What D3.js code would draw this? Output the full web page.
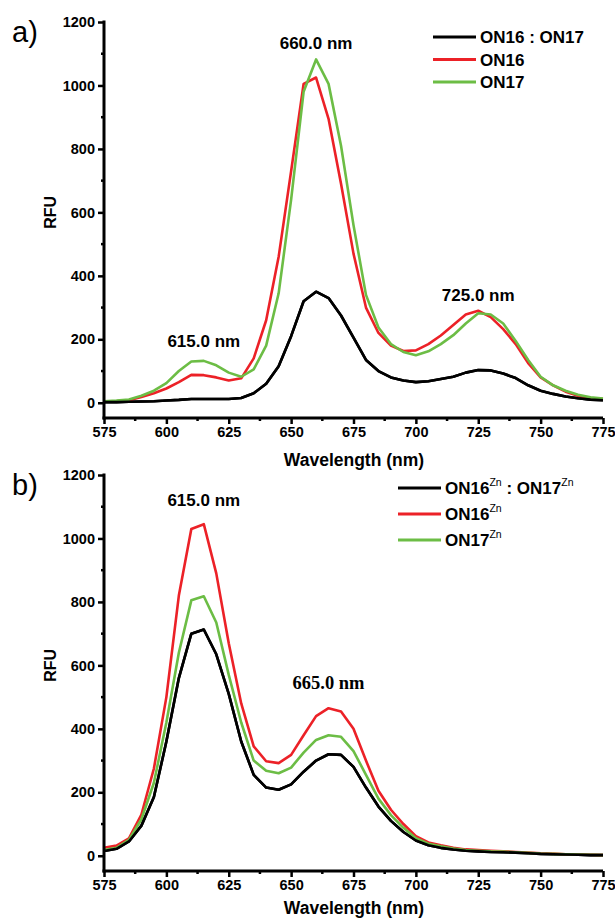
<!DOCTYPE html>
<html>
<head>
<meta charset="utf-8">
<script src="https://cdn.jsdelivr.net/npm/d3@7"></script>
<style>
  body { margin: 0; background: #fff; }
</style>
</head>
<body>
<div id="chart"></div>
<script>
// wavelengths, 5 nm steps
var wavelengths = d3.range(575, 776, 5);

// panel a) values
var mixA = [2, 2, 3, 4, 5, 7, 9, 12, 12, 12, 12, 15, 30, 60, 115, 210, 320, 350, 330, 275, 205,
  135, 100, 80, 70, 65, 68, 75, 82, 95, 103, 102, 92, 78, 55, 38, 28, 20, 14, 10, 8];
var on16A = [3, 5, 8, 18, 30, 45, 65, 88, 87, 80, 70, 77, 140, 260, 460, 730, 1005, 1025, 895, 690, 470,
  300, 220, 180, 163, 165, 185, 212, 245, 278, 290, 270, 232, 185, 125, 80, 55, 35, 22, 15, 12];
var on17A = [5, 7, 10, 22, 38, 62, 100, 130, 132, 118, 95, 82, 105, 180, 345, 640, 980, 1082, 1005, 810, 560,
  340, 237, 185, 160, 150, 162, 185, 213, 250, 282, 278, 250, 195, 135, 82, 55, 38, 25, 17, 13];

// panel b) values
var mixB = [15, 22, 45, 95, 185, 360, 560, 700, 713, 635, 510, 360, 255, 215, 208, 225, 265, 300, 320, 318, 280,
  215, 155, 110, 75, 48, 33, 25, 20, 16, 14, 12, 11, 10, 8, 6, 5, 4, 3, 2, 2];
var on16B = [25, 32, 55, 130, 275, 500, 820, 1030, 1045, 890, 670, 480, 345, 298, 292, 318, 380, 440, 465, 455, 400,
  300, 205, 145, 100, 62, 42, 33, 25, 20, 18, 16, 14, 12, 10, 8, 7, 5, 4, 3, 2];
var on17B = [18, 25, 50, 115, 230, 420, 640, 805, 818, 735, 570, 420, 300, 268, 260, 278, 325, 365, 380, 375, 330,
  255, 180, 128, 88, 55, 38, 30, 23, 18, 16, 14, 13, 11, 9, 7, 6, 5, 4, 3, 2];

var xTicks = d3.range(575, 776, 25);
var xMinor = d3.range(587.5, 776, 25);
var yTicks = d3.range(0, 1201, 200);
var yMinor = d3.range(100, 1200, 200);

var colors = ["#000000", "#ec2127", "#6cbd45"];
var legendA = [["ON16 : ON17"], ["ON16"], ["ON17"]];
var legendB = [["ON16", "Zn", " : ON17", "Zn"], ["ON16", "Zn"], ["ON17", "Zn"]];

var sans = "Liberation Sans, Arial, sans-serif";

var svg = d3.select("#chart").append("svg")
  .attr("width", 615)
  .attr("height", 920)
  .attr("font-family", sans);

function drawPanel(top, series, letter, legend, legendX, peaks, titleY) {
  var g = svg.append("g").attr("transform", `translate(0, ${top})`);

  var x = d3.scaleLinear().domain([575, 775]).range([104, 603]);
  var y = d3.scaleLinear().domain([-48, 1200]).range([418, 22]);

  // lines
  var line = d3.line()
    .x((d, i) => x(wavelengths[i]))
    .y(d => y(d));

  series.forEach(function(s, i) {
    g.append("path")
      .datum(s)
      .attr("fill", "none")
      .attr("stroke", colors[i])
      .attr("stroke-width", 2.6)
      .attr("stroke-linejoin", "round")
      .attr("d", line);
  });
  // redraw black on top so the mix curve stays visible
  g.append("path").datum(series[0])
    .attr("fill", "none").attr("stroke", colors[0]).attr("stroke-width", 2.6)
    .attr("stroke-linejoin", "round").attr("d", line);

  // axes
  var xAxis = d3.axisBottom(x).tickValues(xTicks).tickSize(6).tickPadding(3).tickFormat(d3.format("d"));
  var yAxis = d3.axisLeft(y).tickValues(yTicks).tickSize(6).tickPadding(3).tickFormat(d3.format("d"));

  var gx = g.append("g").attr("transform", `translate(0, ${y(-48)})`).call(xAxis);
  var gy = g.append("g").attr("transform", `translate(${x(575)}, 0)`).call(yAxis);

  gx.append("g").selectAll("line").data(xMinor).enter().append("line")
    .attr("x1", d => x(d)).attr("x2", d => x(d)).attr("y1", 0).attr("y2", 3)
    .attr("stroke", "#000").attr("stroke-width", 2.5);
  gy.append("g").selectAll("line").data(yMinor).enter().append("line")
    .attr("y1", d => y(d)).attr("y2", d => y(d)).attr("x1", 0).attr("x2", -3)
    .attr("stroke", "#000").attr("stroke-width", 2.5);

  [gx, gy].forEach(function(a) {
    a.select(".domain").attr("stroke-width", 3);
    a.selectAll(".tick line").attr("stroke-width", 2.5);
    a.selectAll("text")
      .attr("font-family", sans)
      .attr("font-weight", "bold")
      .attr("font-size", 14.5)
      .attr("fill", "#000");
  });
  // axis lines without the default end ticks
  gx.select(".domain").attr("d", `M${x(575) - 1.5},0H${x(775)}`);
  gy.select(".domain").attr("d", `M0,${y(-48) + 1.5}V${y(1200) - 1.5}`);

  g.append("text")
    .attr("x", 354).attr("y", titleY)
    .attr("text-anchor", "middle")
    .attr("font-weight", "bold")
    .attr("font-size", 17.5)
    .attr("fill", "#000")
    .text("Wavelength (nm)");

  g.append("text")
    .attr("transform", `translate(56, ${y(600)}) rotate(-90)`)
    .attr("text-anchor", "middle")
    .attr("font-weight", "bold")
    .attr("font-size", 16)
    .text("RFU");

  g.append("text")
    .attr("x", 12).attr("y", 42)
    .attr("font-size", 29)
    .text(letter);

  // peak labels
  peaks.forEach(function(p) {
    g.append("text")
      .attr("x", x(p.wl)).attr("y", y(p.v))
      .attr("text-anchor", "middle")
      .attr("font-weight", "bold")
      .attr("font-size", p.serif ? 18.5 : 17)
      .attr("font-family", p.serif ? "Liberation Serif, Times New Roman, serif" : sans)
      .text(p.label);
  });

  // legend
  legend.forEach(function(parts, i) {
    var ly = legendX.y + i * legendX.step;
    g.append("line")
      .attr("x1", legendX.x).attr("x2", legendX.x + 43)
      .attr("y1", ly).attr("y2", ly)
      .attr("stroke", colors[i]).attr("stroke-width", 3);
    var t = g.append("text")
      .attr("x", legendX.x + 47).attr("y", ly + 6)
      .attr("font-weight", "bold")
      .attr("font-size", 17);
    parts.forEach(function(p, j) {
      if (j % 2 === 1) {
        t.append("tspan").attr("dy", -8).attr("font-size", 10.5).attr("font-weight", "normal").text(p);
      } else {
        t.append("tspan").attr("dy", j > 0 ? 8 : 0).text(p);
      }
    });
  });
}

drawPanel(0, [mixA, on16A, on17A], "a)", legendA, {x: 433, y: 37, step: 22.5}, [
  {wl: 660, v: 1115, label: "660.0 nm"},
  {wl: 615, v: 175, label: "615.0 nm"},
  {wl: 725, v: 320, label: "725.0 nm"}
], 466);

drawPanel(453, [mixB, on16B, on17B], "b)", legendB, {x: 398, y: 35, step: 26}, [
  {wl: 615, v: 1102, label: "615.0 nm"},
  {wl: 665, v: 526, label: "665.0 nm", serif: true}
], 461);
</script>
</body>
</html>
